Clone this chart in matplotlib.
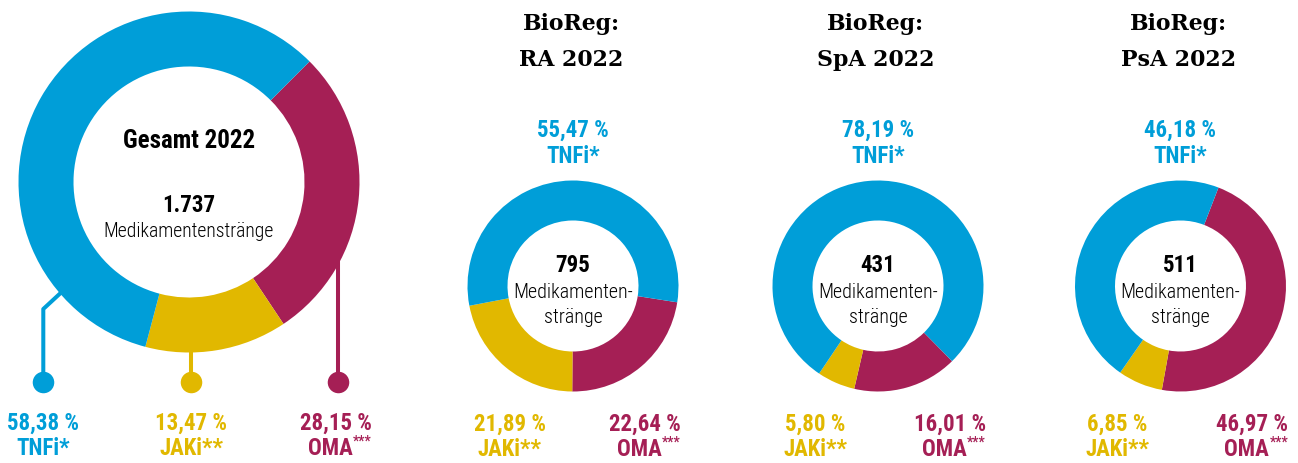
import matplotlib.pyplot as plt

# Anteile je Register (TNFi, JAKi, OMA) in Prozent
categories = ["TNFi*", "JAKi**", "OMA"]
gesamt = [58.38, 13.47, 28.15]
ra = [55.47, 21.89, 22.64]
spa = [78.19, 5.80, 16.01]
psa = [46.18, 6.85, 46.97]
counts = ["1.737", "795", "431", "511"]
panel_titles = ["RA 2022", "SpA 2022", "PsA 2022"]

BLUE = "#009ed8"
YELLOW = "#e1b800"
RED = "#a51f55"
colors = [BLUE, YELLOW, RED]

NARROW = ["Roboto Condensed", "Roboto", "DejaVu Sans"]
SERIF = ["DejaVu Serif"]

H = 464
fig = plt.figure(figsize=(12.98, 4.64), dpi=100)
ax = fig.add_axes([0, 0, 1, 1])

PS = 16.5  # Prozent-Labels


def pct(v):
    return f"{v:.2f}".replace(".", ",") + " %"


def txt(x, y, s, size, color="black", weight="normal", family=NARROW, ha="center"):
    # y in Bildpixeln von oben, Grundlinie
    return ax.text(x, H - y, s, fontsize=size, color=color, fontweight=weight,
                   family=family, ha=ha, va="baseline")


def oma(x, y, size):
    t = txt(x - 6, y, "OMA", size, RED, "bold")
    ax.annotate("***", xy=(1, 1), xycoords=t, xytext=(0.5, 2), textcoords="offset points",
                ha="left", va="top", fontsize=size * 0.6, color=RED, fontweight="bold",
                family=NARROW)


def donut(vals, cx, cy, r, w, start):
    # Reihenfolge im Uhrzeigersinn: OMA, JAKi, TNFi
    ax.pie([vals[2], vals[1], vals[0]], colors=[RED, YELLOW, BLUE], center=(cx, H - cy),
           radius=r, startangle=90 - start, counterclock=False,
           wedgeprops=dict(width=w, linewidth=0))


# Gesamt
donut(gesamt, 189, 183, 170.5, 55, 45)
lw = 2.9
ax.plot([61.7, 43.3, 43.3], [H - 293, H - 310, H - 383], color=BLUE, lw=lw, solid_capstyle="butt")
ax.plot([190.7, 190.7], [H - 350, H - 383], color=YELLOW, lw=lw)
ax.plot([338.3, 338.3], [H - 263, H - 383], color=RED, lw=lw)
for x, c in zip([43.3, 190.7, 338.3], colors):
    ax.plot(x, H - 383, "o", ms=15.5, color=c, mec="none")

txt(189, 148, "Gesamt 2022", 18, weight="bold")
txt(189, 212, counts[0], 16.5, weight="bold")
txt(189, 237, "Medikamentenstränge", 14.2, weight="light")

txt(43, 430, pct(gesamt[0]), PS, BLUE, "bold")
txt(43, 455, categories[0], PS, BLUE, "bold")
txt(191, 430, pct(gesamt[1]), PS, YELLOW, "bold")
txt(191, 455, categories[1], PS, YELLOW, "bold")
txt(336, 430, pct(gesamt[2]), PS, RED, "bold")
oma(336, 455, PS)

# BioReg-Register
panels = [(ra, 573, 98.9), (spa, 878, 135.4), (psa, 1180.5, 21.1)]
for (vals, cx, start), title, n in zip(panels, panel_titles, counts[1:]):
    donut(vals, cx, 287, 105.5, 40, start)
    txt(cx - 2, 30, "BioReg:", 15.8, family=SERIF, weight="bold")
    txt(cx - 2, 66, title, 15.8, family=SERIF, weight="bold")
    txt(cx, 137, pct(vals[0]), PS, BLUE, "bold")
    txt(cx, 163, categories[0], PS, BLUE, "bold")
    txt(cx, 272, n, 16.5, weight="bold")
    txt(cx, 298, "Medikamenten-", 14.4, weight="light")
    txt(cx, 323, "stränge", 14.4, weight="light")
    txt(cx - 63, 431, pct(vals[1]), PS, YELLOW, "bold")
    txt(cx - 63, 456, categories[1], PS, YELLOW, "bold")
    txt(cx + 72, 431, pct(vals[2]), PS, RED, "bold")
    oma(cx + 72, 456, PS)

ax.set_xlim(0, 1298)
ax.set_ylim(0, H)
ax.set_aspect("equal")
ax.axis("off")
fig.savefig("out.png", dpi=100)
